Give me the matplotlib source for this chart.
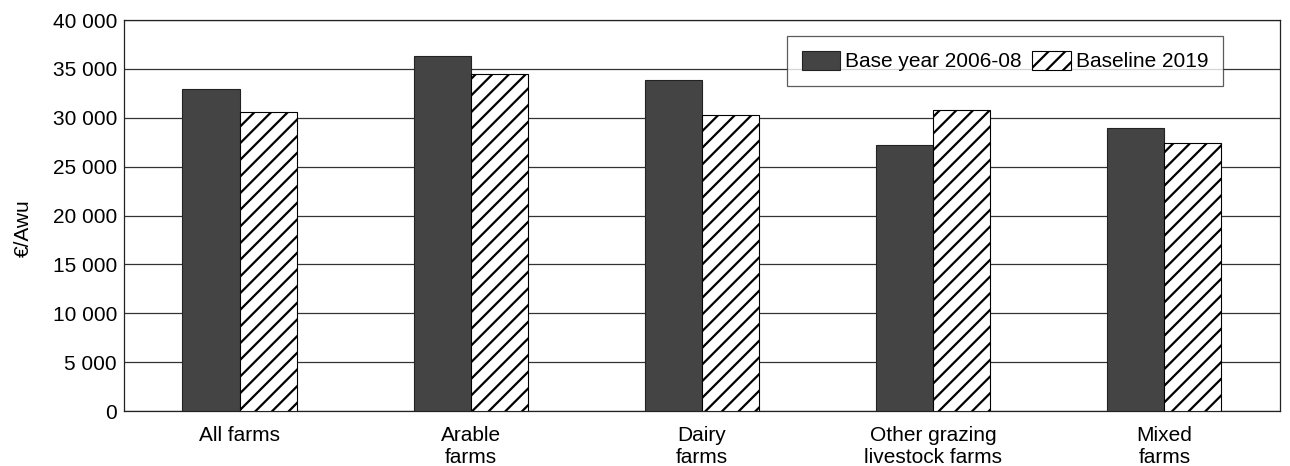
import matplotlib

matplotlib.use("Agg")
import matplotlib.pyplot as plt
import numpy as np
from matplotlib.ticker import FuncFormatter

plt.rcParams["font.family"] = ["Liberation Sans", "DejaVu Sans"]
plt.rcParams["hatch.linewidth"] = 1.6

categories = ["All farms", "Arable\nfarms", "Dairy\nfarms",
              "Other grazing\nlivestock farms", "Mixed\nfarms"]
base_year = [32900, 36300, 33900, 27200, 29000]
baseline_2019 = [30600, 34450, 30300, 30800, 27450]
series_labels = ["Base year 2006-08", "Baseline 2019"]
y_ticks = list(range(0, 40001, 5000))

x = np.arange(len(categories))
width = 0.247

fig = plt.figure(figsize=(12.9, 4.66), dpi=100)
ax = fig.add_axes([0.0961, 0.118, 0.8961, 0.839])

ax.bar(x - width / 2, base_year, width, color="#444444", edgecolor="#222222",
       linewidth=0.8, label=series_labels[0], zorder=3)
ax.bar(x + width / 2, baseline_2019, width, color="white", edgecolor="black",
       hatch="//", linewidth=0.8, label=series_labels[1], zorder=3)

ax.set_xlim(-0.5, len(categories) - 0.5)
ax.set_ylim(0, 40000)
ax.set_yticks(y_ticks)
ax.yaxis.set_major_formatter(
    FuncFormatter(lambda v, _: f"{int(v):,}".replace(",", " ")))
ax.set_xticks(x)
ax.set_xticklabels(categories)
ax.tick_params(axis="both", length=0, labelsize=15, colors="black")
ax.tick_params(axis="y", pad=5)
ax.tick_params(axis="x", pad=11)
ax.yaxis.grid(True, color="#333333", linewidth=0.9, zorder=0)
ax.set_axisbelow(True)
for spine in ax.spines.values():
    spine.set_color("#222222")
    spine.set_linewidth(0.9)

ax.set_ylabel("€/Awu", fontsize=15)
ax.yaxis.set_label_coords(-0.079, 0.468)

leg = ax.legend(loc="upper right", bbox_to_anchor=(0.951, 0.959), ncol=2,
                fontsize=15, frameon=True, fancybox=False, edgecolor="#333333",
                handlelength=1.85, handleheight=1.05, columnspacing=0.5,
                handletextpad=0.25, borderpad=0.7, borderaxespad=0)
leg.get_frame().set_linewidth(0.9)

fig.savefig("out.png", dpi=100)
